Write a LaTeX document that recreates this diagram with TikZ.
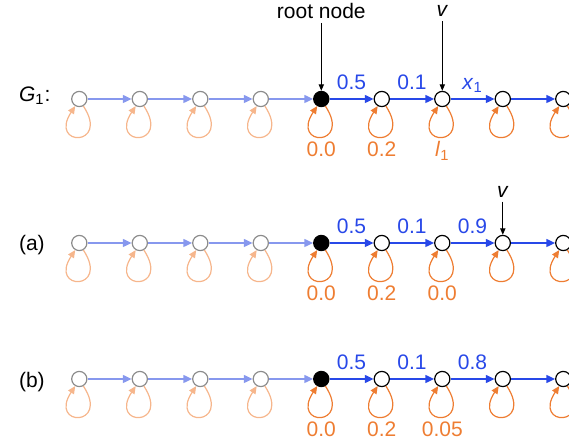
\documentclass[tikz,border=0pt]{standalone}
\usepackage{fontspec}
\setmainfont{Liberation Sans}
\usetikzlibrary{arrows.meta}
\definecolor{edgeblue}{RGB}{40,72,232}
\definecolor{paleblue}{RGB}{135,152,238}
\definecolor{loopred}{RGB}{238,125,50}
\definecolor{palered}{RGB}{246,182,140}
\definecolor{nodegray}{RGB}{140,140,140}
\begin{document}
\begin{tikzpicture}[x=0.5pt, y=0.5pt, font=\fontsize{10.5}{12}\selectfont,
    oldnode/.style = {draw=nodegray, circle, minimum size=7.6pt, inner sep=0pt, line width=0.6pt},
    newnode/.style = {draw, circle, minimum size=7.6pt, inner sep=0pt, line width=0.6pt},
    rootnode/.style = {newnode, fill=black},
    oldedge/.style = {draw=paleblue, line width=0.7pt, -{Triangle[length=4.4pt,width=4pt]}},
    newedge/.style = {draw=edgeblue, line width=0.7pt, -{Triangle[length=4.4pt,width=4pt]}},
    oldloop/.style = {draw=palered, line width=0.6pt, -{Triangle[length=3.8pt,width=3.4pt]}},
    newloop/.style = {draw=loopred, line width=0.6pt, -{Triangle[length=3.8pt,width=3.4pt]}},
    blab/.style = {text=edgeblue, anchor=base, yshift=4.75pt, inner sep=0pt},
    olab/.style = {text=loopred, anchor=base, yshift=-29pt, inner sep=0pt},
    pointer/.style = {draw, line width=0.5pt, -{Triangle[length=3.2pt,width=2.6pt]}},
    toplab/.style = {anchor=base, inner sep=2pt}]
  \useasboundingbox (0,0) rectangle (569,445);
  \clip (0,0) rectangle (569,445);
  % three rows: G_1, (a), (b)
  \foreach \r/\y/\xl/\ll in {g/346/{\textit{x}\textsubscript{1}}/{\textit{l}\textsubscript{1}}, a/202/0.9/0.0, b/66/0.8/0.05} {
    \foreach \i in {1,...,4} \node[oldnode] (\r\i) at ({79.3+60.5*(\i-1)}, \y) {};
    \node[rootnode] (\r5) at (321.3, \y) {};
    \foreach \i in {6,...,9} \node[newnode] (\r\i) at ({79.3+60.5*(\i-1)}, \y) {};
    \foreach \i/\j in {1/2, 2/3, 3/4, 4/5} \draw[oldedge] (\r\i) -- (\r\j);
    \draw[newedge] (\r5) -- node[blab] (e\r56) {0.5} (\r6);
    \draw[newedge] (\r6) -- node[blab] (e\r67) {0.1} (\r7);
    \draw[newedge] (\r7) -- node[blab] (e\r78) {\xl} (\r8);
    \draw[newedge] (\r8) -- (\r9);
    \foreach \i in {1,...,4} \draw[oldloop] (\r\i.-60) .. controls +(27,-41) and +(-27,-41) .. (\r\i.-120);
    \foreach \i in {5,...,9} \draw[newloop] (\r\i.-60) .. controls +(27,-41) and +(-27,-41) .. (\r\i.-120);
    \node[olab] (w\r5) at (\r5) {0.0};
    \node[olab] (w\r6) at (\r6) {0.2};
    \node[olab] (w\r7) at (\r7) {\ll};
  }
  \node[anchor=base west] (gname) at (12,343.3) {\textit{G}\textsubscript{1}:};
  \node[anchor=base west] (aname) at (12,194.4) {(a)};
  \node[anchor=base west] (bname) at (12,57.7) {(b)};
  \node[toplab] (rootlab) at (321.3,426.7) {root node};
  \node[toplab] (vg) at (442.3,428.3) {\textit{v}};
  \node[toplab] (va) at (502.8,247.7) {\textit{v}};
  \draw[pointer] (rootlab.south) -- (g5.north);
  \draw[pointer] (vg.south) -- (g7.north);
  \draw[pointer] (va.south) -- (a8.north);
\end{tikzpicture}
\end{document}
